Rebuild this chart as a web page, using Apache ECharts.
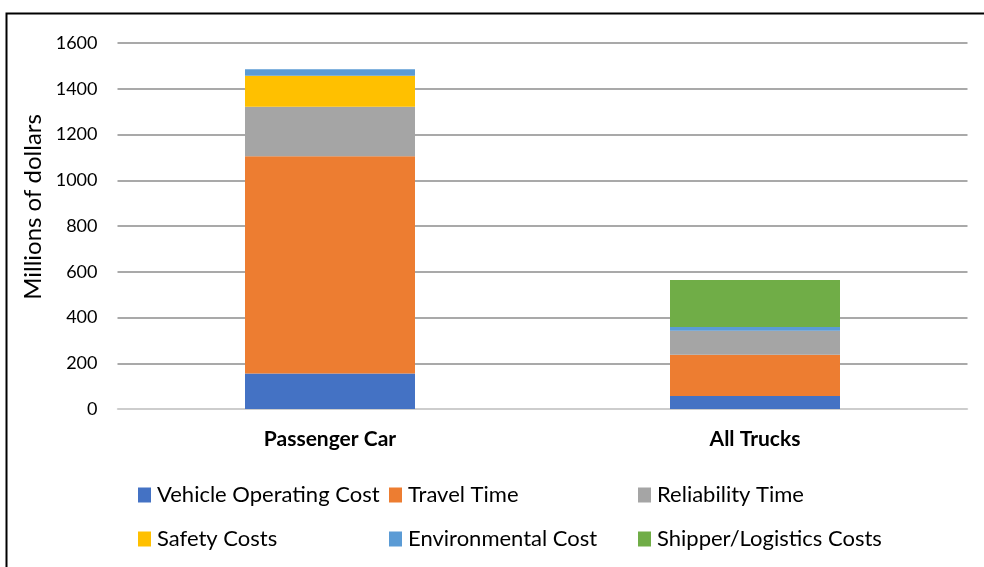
<!DOCTYPE html>
<html><head><meta charset="utf-8">
<script src="https://cdn.jsdelivr.net/npm/echarts@6/dist/echarts.min.js"></script>
<style>html,body{margin:0;padding:0;background:#fff}#c{width:984px;height:567px}</style>
</head><body><div id="c"></div>
<script>
const categories = ['Passenger Car', 'All Trucks'];
const vehicleOperatingCost = [155, 57];
const travelTime = [950, 180];
const reliabilityTime = [216, 105];
const safetyCosts = [136, 0];
const environmentalCost = [28, 16];
const shipperLogisticsCosts = [0, 206];
const yTicks = [0, 200, 400, 600, 800, 1000, 1200, 1400, 1600];
const yTitle = 'Millions of dollars';

const names = ['Vehicle Operating Cost','Travel Time','Reliability Time','Safety Costs','Environmental Cost','Shipper/Logistics Costs'];
const datas = [vehicleOperatingCost, travelTime, reliabilityTime, safetyCosts, environmentalCost, shipperLogisticsCosts];
const colors = ['#4472C4','#ED7D31','#A5A5A5','#FFC000','#5B9BD5','#70AD47'];
const FONT = 'Lato';

const chart = echarts.init(document.getElementById('c'));
const legendBase = {
  orient: 'vertical', top: 479, itemGap: 22, itemWidth: 13, itemHeight: 15, icon: 'rect',
  textStyle: { fontFamily: FONT, fontSize: 22, color: '#000', padding: [0,0,0,1] },
  selectedMode: false
};
chart.setOption({
  animation: false,
  textStyle: { fontFamily: FONT },
  graphic: [
    { type: 'rect', shape: { x: 6.5, y: 13.5, width: 1100, height: 700 },
      style: { fill: 'none', stroke: '#000', lineWidth: 2 }, silent: true },
    { type: 'text', x: 33, y: 207, rotation: Math.PI / 2, silent: true,
      style: { text: yTitle, fontFamily: FONT, fontSize: 24, fill: '#000', align: 'center', verticalAlign: 'middle' } }
  ],
  legend: [
    Object.assign({}, legendBase, { left: 133, data: [names[0], names[3]] }),
    Object.assign({}, legendBase, { left: 384, data: [names[1], names[4]] }),
    Object.assign({}, legendBase, { left: 633, data: [names[2], names[5]] })
  ],
  grid: { left: 117.5, right: 16.5, top: 43, bottom: 158 },
  xAxis: {
    type: 'category', data: categories,
    axisLine: { lineStyle: { color: '#D9D9D9', width: 1.5 } },
    axisTick: { show: false },
    axisLabel: { fontFamily: FONT, fontSize: 21, fontWeight: 'bold', color: '#000', margin: 20 }
  },
  yAxis: {
    type: 'value', min: yTicks[0], max: yTicks[yTicks.length-1], interval: 200,
    axisLine: { show: false }, axisTick: { show: false },
    axisLabel: { fontFamily: FONT, fontSize: 18, color: '#000', margin: 20, formatter: v => String(v) },
    splitLine: { lineStyle: { color: '#8C8C8C', width: 1.5 } }
  },
  series: names.map((n, i) => ({
    name: n, type: 'bar', stack: 'total', barWidth: '40%',
    data: datas[i], itemStyle: { color: colors[i] }
  }))
});
</script></body></html>
